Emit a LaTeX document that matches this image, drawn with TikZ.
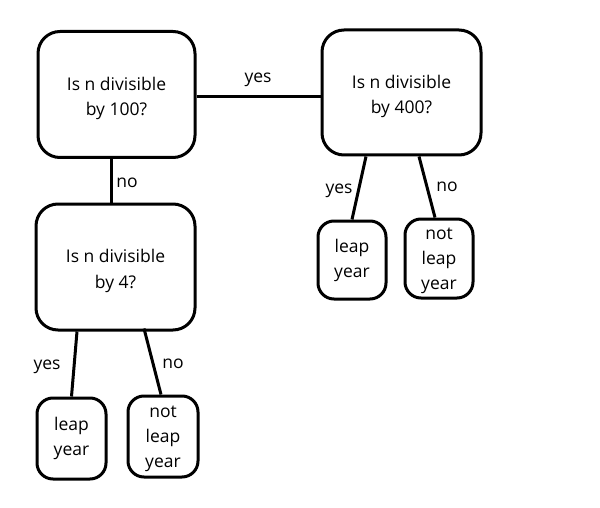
\documentclass[tikz,border=0pt]{standalone}
\usepackage{fontspec}
\setmainfont{Open Sans}
\begin{document}
\begin{tikzpicture}[x=1pt,y=-1pt,
  qbox/.style={draw,line width=3pt,rounded corners=22pt,align=center,inner sep=0pt,
    text height=46.6pt,font=\fontsize{17.5}{25.5}\selectfont},
  leaf/.style={draw,line width=3pt,rounded corners=16pt,align=center,inner sep=0pt,
    font=\fontsize{17.5}{25}\selectfont},
  conn/.style={line width=3pt},
  lbl/.style={font=\fontsize{17.5}{25}\selectfont,inner sep=0pt}]
\useasboundingbox[fill=white] (0,0) rectangle (600,508);
\node[qbox,minimum width=157pt,minimum height=126pt] (A) at (116.5,94.5) {Is n divisible\\by 100?};
\node[qbox,minimum width=159pt,minimum height=125pt] (B) at (401.5,92.5) {Is n divisible\\by 400?};
\node[qbox,minimum width=159pt,minimum height=126pt] (C) at (115.5,267) {Is n divisible\\by 4?};
\node[leaf,minimum width=69pt,minimum height=81pt] (L1) at (71.5,438.5) {leap\\year};
\node[leaf,minimum width=70pt,minimum height=81pt,text height=66.2pt] (N1) at (163,436.5) {not\\leap\\year};
\node[leaf,minimum width=68pt,minimum height=78pt] (L2) at (352,260) {leap\\year};
\node[leaf,minimum width=68pt,minimum height=79pt,text height=66.2pt] (N2) at (439,258.5) {not\\leap\\year};
\draw[conn] ([yshift=-2.5pt]A.east) -- ([yshift=-2.5pt]A.east -| B.west);
\draw[conn] ([xshift=-5.5pt]A.south) -- ([xshift=-5.5pt]A.south |- C.north);
\draw[conn] ([xshift=-35.5pt]B.south) -- (L2.north);
\draw[conn] ([xshift=17.5pt]B.south) -- ([xshift=-4pt]N2.north);
\draw[conn] ([xshift=-38.5pt]C.south) -- (L1.north);
\draw[conn] ([xshift=28.5pt,yshift=3pt]C.south) -- ([xshift=-2pt]N1.north);
\node[lbl] (yA) at (258,80) {yes};
\node[lbl] (nA) at (127,183) {no};
\node[lbl] (yB) at (339,191) {yes};
\node[lbl] (nB) at (447,187) {no};
\node[lbl] (yC) at (47,367) {yes};
\node[lbl] (nC) at (173,364) {no};
\end{tikzpicture}
\end{document}
